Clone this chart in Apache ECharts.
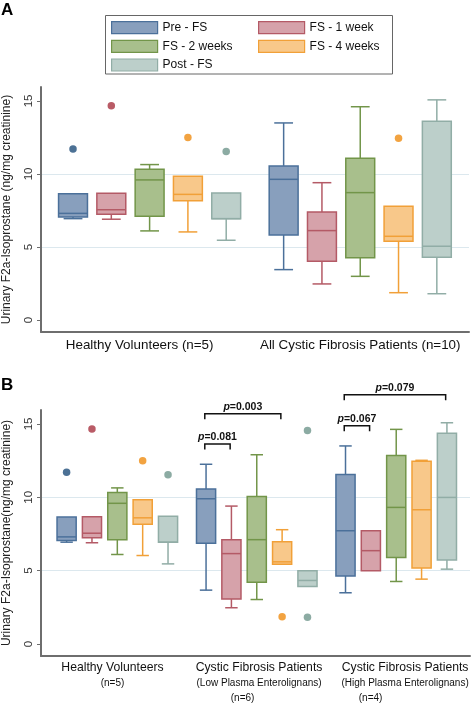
<!DOCTYPE html>
<html><head><meta charset="utf-8">
<script src="https://cdn.jsdelivr.net/npm/echarts@6/dist/echarts.min.js"></script>
<style>html,body{margin:0;padding:0;background:#fff}#c{width:473px;height:704px}</style>
</head><body><div id="c"></div>
<script>
// ---------- DATA ----------
const seriesNames = ['Pre - FS', 'FS - 1 week', 'FS - 2 weeks', 'FS - 4 weeks', 'Post - FS'];
const groupsA = ['Healthy Volunteers (n=5)', 'All Cystic Fibrosis Patients (n=10)'];
const groupsB = [
  ['Healthy Volunteers', '(n=5)'],
  ['Cystic Fibrosis Patients', '(Low Plasma Enterolignans)', '(n=6)'],
  ['Cystic Fibrosis Patients', '(High Plasma Enterolignans)', '(n=4)']
];
const yTicks = [0, 5, 10, 15];

// [min, Q1, median, Q3, max] for each group
const preA  = [[6.94, 7.05, 7.30, 8.65, 8.65], [3.45, 5.82, 9.63, 10.55, 13.49]];
const wk1A  = [[6.90, 7.24, 7.55, 8.68, 8.68], [2.47, 4.02, 6.12, 7.40, 9.40]];
const wk2A  = [[6.10, 7.10, 9.59, 10.32, 10.64], [2.99, 4.27, 8.72, 11.07, 14.60]];
const wk4A  = [[6.03, 8.17, 8.60, 9.84, 9.84], [1.87, 5.39, 5.73, 7.78, 7.78]];
const postA = [[5.46, 6.94, 6.94, 8.70, 8.70], [1.80, 4.29, 5.05, 13.60, 15.07]];

const preB  = [preA[0],  [3.67, 6.86, 9.90, 10.57, 12.25], [3.49, 4.64, 7.72, 11.55, 13.50]];
const wk1B  = [wk1A[0],  [2.47, 3.06, 6.16, 7.11, 9.40],   [5.00, 5.00, 6.36, 7.72, 7.72]];
const wk2B  = [wk2A[0],  [3.03, 4.21, 7.11, 10.05, 12.90], [4.26, 5.89, 9.31, 12.84, 14.63]];
const wk4B  = [wk4A[0],  [5.43, 5.43, 5.60, 6.96, 7.79],   [4.42, 5.18, 9.15, 12.45, 12.52]];
const postB = [postA[0], [3.92, 3.92, 4.33, 5.00, 5.00],   [5.10, 5.73, 9.99, 14.36, 15.08]];

// outliers: [group index, value]
const preOutA  = [[0, 11.70]];
const wk1OutA  = [[0, 14.66]];
const wk2OutA  = [];
const wk4OutA  = [[0, 12.49], [1, 12.44]];
const postOutA = [[0, 11.53]];

const preOutB  = [[0, 11.70]];
const wk1OutB  = [[0, 14.66]];
const wk2OutB  = [];
const wk4OutB  = [[0, 12.49], [1, 1.86]];
const postOutB = [[0, 11.53], [1, 14.56], [1, 1.83]];

// p-value brackets in panel B: [group, from series, to series, bracket height]
const pLabels   = ['0.081', '0.003', '0.067', '0.079'];
const pBrackets = [[1, 0, 1, 13.63], [1, 0, 3, 15.70], [2, 0, 1, 14.88], [2, 0, 4, 16.99]];

// ---------- STYLE ----------
const fills   = ['#889fbd', '#d6a2aa', '#a8bf8c', '#f8c88a', '#bccfca'];
const strokes = ['#4b709a', '#b45a66', '#729549', '#f1a038', '#91ada6'];
const dots    = ['#1f4e7a', '#a83240', '#729549', '#ef8c12', '#6f968c'];
const FONT = 'Liberation Sans, Arial, Helvetica, sans-serif';
const GROUP_STEP = 5.5;
const BOX_W = 0.755;
const CAP_RATIO = 0.65;

const boxDataA = [preA, wk1A, wk2A, wk4A, postA];
const boxDataB = [preB, wk1B, wk2B, wk4B, postB];
const outDataA = [preOutA, wk1OutA, wk2OutA, wk4OutA, postOutA];
const outDataB = [preOutB, wk1OutB, wk2OutB, wk4OutB, postOutB];

function pos(g, s) { return g * GROUP_STEP + s; }

function boxRender(si) {
  return function (params, api) {
    const x = api.value(0);
    const v = [1, 2, 3, 4, 5].map(i => api.value(i));
    const w = api.size([BOX_W, 0])[0];
    const cw = w * CAP_RATIO;
    const p = v.map(val => api.coord([x, val]));
    const cx = p[0][0];
    const ls = { stroke: strokes[si], lineWidth: 1.5, fill: null };
    const ch = [];
    if (v[0] < v[1]) {
      ch.push({ type: 'line', shape: { x1: cx, y1: p[1][1], x2: cx, y2: p[0][1] }, style: ls });
      ch.push({ type: 'line', shape: { x1: cx - cw / 2, y1: p[0][1], x2: cx + cw / 2, y2: p[0][1] }, style: ls });
    }
    if (v[4] > v[3]) {
      ch.push({ type: 'line', shape: { x1: cx, y1: p[3][1], x2: cx, y2: p[4][1] }, style: ls });
      ch.push({ type: 'line', shape: { x1: cx - cw / 2, y1: p[4][1], x2: cx + cw / 2, y2: p[4][1] }, style: ls });
    }
    ch.push({ type: 'rect', shape: { x: cx - w / 2, y: p[3][1], width: w, height: p[1][1] - p[3][1] },
      style: { fill: fills[si], stroke: strokes[si], lineWidth: 1.5 } });
    ch.push({ type: 'line', shape: { x1: cx - w / 2, y1: p[2][1], x2: cx + w / 2, y2: p[2][1] }, style: ls });
    return { type: 'group', children: ch };
  };
}

function bracketRender(params, api) {
  const x1 = api.value(0), x2 = api.value(1), yt = api.value(2);
  const a = api.coord([x1, yt]), b = api.coord([x2, yt]);
  const tick = 5.5;
  const txt = pLabels[params.dataIndex];
  return {
    type: 'group', children: [
      { type: 'polyline', shape: { points: [[a[0], a[1] + tick], a, b, [b[0], b[1] + tick]] },
        style: { stroke: '#111', lineWidth: 1.5, fill: null } },
      { type: 'text', x: (a[0] + b[0]) / 2, y: a[1] - 7,
        style: { text: '{i|p}{n|=' + txt + '}', align: 'center', verticalAlign: 'middle',
          rich: { i: { fontStyle: 'italic', fontWeight: 'bold', fontSize: 10.5, fontFamily: FONT, fill: '#111' },
                  n: { fontWeight: 'bold', fontSize: 10.5, fontFamily: FONT, fill: '#111' } } } }
    ]
  };
}

const series = [];
[[boxDataA, outDataA, 0], [boxDataB, outDataB, 1]].forEach(([bd, od, gi]) => {
  bd.forEach((arr, si) => {
    series.push({
      type: 'custom', name: seriesNames[si], xAxisIndex: gi, yAxisIndex: gi,
      renderItem: boxRender(si),
      itemStyle: { color: fills[si], borderColor: strokes[si] },
      encode: { x: 0, y: [1, 2, 3, 4, 5] },
      data: arr.map((q, g) => [pos(g, si)].concat(q))
    });
  });
  od.forEach((arr, si) => {
    series.push({
      type: 'scatter', name: seriesNames[si], xAxisIndex: gi, yAxisIndex: gi,
      symbolSize: 7.5, itemStyle: { color: dots[si] },
      data: arr.map(o => [pos(o[0], si), o[1]])
    });
  });
});
series.push({
  type: 'custom', name: 'p', xAxisIndex: 1, yAxisIndex: 1, clip: false,
  renderItem: bracketRender,
  encode: { x: [0, 1], y: 2 },
  data: pBrackets.map(b => [pos(b[0], b[1]) - 0.05, pos(b[0], b[2]) - 0.05, b[3]])
});

const labelPosA = [1.74, 7.5];
const labelPosB = [1.81, 7.59, 13.35];

function nearestIndex(list, v) {
  let best = 0;
  list.forEach((p, i) => { if (Math.abs(p - v) < Math.abs(list[best] - v)) best = i; });
  return best;
}

function yAxis(gi, name) {
  return {
    type: 'value', gridIndex: gi, min: -0.82, max: 15.95, splitNumber: 3,
    name: name, nameLocation: 'middle', nameGap: 28,
    nameTextStyle: { fontFamily: FONT, fontSize: 12, color: '#222' },
    axisLine: { show: true, onZero: false, lineStyle: { color: '#6e6e6e', width: 2 } },
    axisTick: { show: true, length: 4, customValues: yTicks, lineStyle: { color: '#6e6e6e' } },
    axisLabel: { customValues: yTicks, rotate: 90, margin: 6.5, fontFamily: FONT, fontSize: 11.5, color: '#333' },
    splitLine: { show: true, showMinLine: false, showMaxLine: false, lineStyle: { color: '#dce8ee', width: 1 } }
  };
}

const legendStyle = { fontFamily: FONT, fontSize: 12, color: '#111' };
function legendItems(names) {
  return names.map(n => {
    const i = seriesNames.indexOf(n);
    return { name: n, itemStyle: { color: fills[i], borderColor: strokes[i], borderWidth: 1.2 } };
  });
}

const option = {
  animation: false,
  backgroundColor: '#fff',
  grid: [
    { left: 41, top: 87, width: 428, height: 245, outerBoundsMode: 'none', containLabel: false },
    { left: 41, top: 410, width: 429, height: 246, outerBoundsMode: 'none', containLabel: false }
  ],
  xAxis: [
    {
      type: 'value', gridIndex: 0, min: -0.836, max: 10.34,
      axisLine: { show: true, onZero: false, lineStyle: { color: '#6e6e6e', width: 2 } },
      axisTick: { show: false }, splitLine: { show: false },
      axisLabel: {
        customValues: labelPosA, margin: 7, fontFamily: FONT, fontSize: 13.4, color: '#111',
        formatter: v => groupsA[nearestIndex(labelPosA, v)]
      }
    },
    {
      type: 'value', gridIndex: 1, min: -1.01, max: 15.91,
      axisLine: { show: true, onZero: false, lineStyle: { color: '#6e6e6e', width: 2 } },
      axisTick: { show: false }, splitLine: { show: false },
      axisLabel: {
        customValues: labelPosB, margin: 4, color: '#111',
        formatter: v => {
          const i = nearestIndex(labelPosB, v);
          return groupsB[i].map((t, k) => '{' + (k === 0 ? 'a' : (k === 1 ? 'b' : 'c' + i)) + '|' + t + '}').join('\n');
        },
        rich: {
          a: { fontFamily: FONT, fontSize: 12.2, lineHeight: 15.5, color: '#111' },
          b: { fontFamily: FONT, fontSize: 10, lineHeight: 15, color: '#111' },
          c1: { fontFamily: FONT, fontSize: 10, lineHeight: 15, color: '#111', padding: [0, 33, 0, 0] },
          c2: { fontFamily: FONT, fontSize: 10, lineHeight: 15, color: '#111', padding: [0, 69, 0, 0] }
        }
      }
    }
  ],
  yAxis: [
    yAxis(0, 'Urinary F2a-Isoprostane (ng/mg creatinine)'),
    yAxis(1, 'Urinary F2a-Isoprostane(ng/mg creatinine)')
  ],
  legend: [
    { left: 111, top: 21, orient: 'vertical', icon: 'rect', itemWidth: 46, itemHeight: 12, itemGap: 5.5,
      padding: 0, textStyle: legendStyle, selectedMode: false,
      data: legendItems(['Pre - FS', 'FS - 2 weeks', 'Post - FS']) },
    { left: 258, top: 21, orient: 'vertical', icon: 'rect', itemWidth: 46, itemHeight: 12, itemGap: 5.5,
      padding: 0, textStyle: legendStyle, selectedMode: false,
      data: legendItems(['FS - 1 week', 'FS - 4 weeks']) }
  ],
  graphic: [
    { type: 'rect', shape: { x: 105.5, y: 15.5, width: 287, height: 58.5 },
      style: { fill: 'none', stroke: '#666', lineWidth: 1 } },
    { type: 'text', left: 1, top: 2, style: { text: 'A', font: 'bold 17px ' + FONT, fill: '#000' } },
    { type: 'text', left: 1, top: 377, style: { text: 'B', font: 'bold 17px ' + FONT, fill: '#000' } }
  ],
  series: series
};

const chart = echarts.init(document.getElementById('c'), null, { renderer: 'canvas' });
chart.setOption(option);
</script>
</body></html>
